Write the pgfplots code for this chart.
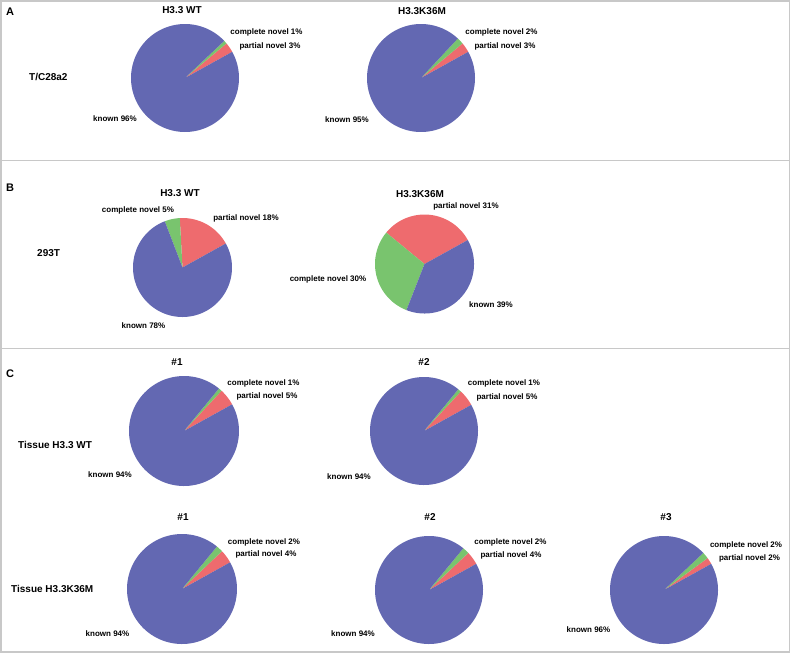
\documentclass[border=0pt]{standalone}
\usepackage{pgfplots}
\pgfplotsset{compat=1.18}
\usepackage{fontspec}
\setmainfont{Liberation Sans}
\definecolor{cblue}{RGB}{99,104,178}
\definecolor{cred}{RGB}{238,107,110}
\definecolor{cgreen}{RGB}{121,196,110}
\definecolor{cframe}{RGB}{200,200,200}
\tikzset{
  lab/.style={font=\bfseries\fontsize{8}{9}\selectfont, inner sep=0pt},
  ttl/.style={font=\bfseries\fontsize{10}{11}\selectfont, inner sep=0pt},
  pnl/.style={font=\bfseries\fontsize{11}{12}\selectfont, inner sep=0pt},
}
% pie: cx, cy, r, known, complete novel, partial novel (percent)
\newcommand{\pie}[6]{%
  \pgfmathsetmacro{\tot}{#4+#5+#6}%
  \pgfmathsetmacro{\aA}{29}%
  \pgfmathsetmacro{\aB}{29+#6/\tot*360}%
  \pgfmathsetmacro{\aC}{\aB+#5/\tot*360}%
  \pgfmathsetmacro{\aD}{389}%
  \edef\doit{%
    \noexpand\addplot[fill=cred, draw=none, domain=\aA:\aB, samples=30, variable=\noexpand\t]
      ({#1+#3*cos(\noexpand\t)},{#2-#3*sin(\noexpand\t)}) -- (axis cs:#1,#2) -- cycle;
    \noexpand\addplot[fill=cgreen, draw=none, domain=\aB:\aC, samples=30, variable=\noexpand\t]
      ({#1+#3*cos(\noexpand\t)},{#2-#3*sin(\noexpand\t)}) -- (axis cs:#1,#2) -- cycle;
    \noexpand\addplot[fill=cblue, draw=none, domain=\aC:\aD, samples=120, variable=\noexpand\t]
      ({#1+#3*cos(\noexpand\t)},{#2-#3*sin(\noexpand\t)}) -- (axis cs:#1,#2) -- cycle;
  }\doit
}
\begin{document}
\begin{tikzpicture}
\begin{axis}[
  at={(0,0)}, anchor=south west,
  scale only axis, width=791pt, height=653pt,
  xmin=0, xmax=791, ymin=0, ymax=653, y dir=reverse,
  hide axis, clip=false,
]
% panel frames
\draw[cframe, line width=1.3pt] (axis cs:1,1) rectangle (axis cs:789.5,160.3);
\draw[cframe, line width=1.3pt] (axis cs:1,160.3) rectangle (axis cs:789.5,348.3);
\draw[cframe, line width=1.3pt] (axis cs:1,348.3) rectangle (axis cs:789.5,652);

% ---- A ----
\pie{185}{78}{54}{96}{1}{3}
\pie{421}{78}{54}{95}{2}{3}
% ---- B ----
\pie{182.5}{267.5}{49.5}{78}{5}{18}
\pie{424.5}{264}{49.5}{39}{30}{31}
% ---- C ----
\pie{184}{431}{55}{94}{1}{5}
\pie{424}{431}{54}{94}{1}{5}
\pie{182}{589}{55}{94}{2}{4}
\pie{429}{590}{54}{94}{2}{4}
\pie{664}{590}{54}{96}{2}{2}

% panel letters
\node[pnl] at (axis cs:10,12) {A};
\node[pnl] at (axis cs:10,188) {B};
\node[pnl] at (axis cs:10,374) {C};
% titles
\node[ttl] at (axis cs:182,10.5) {H3.3 WT};
\node[ttl] at (axis cs:422,11) {H3.3K36M};
\node[ttl] at (axis cs:180,193.5) {H3.3 WT};
\node[ttl] at (axis cs:420,194.5) {H3.3K36M};
\node[ttl] at (axis cs:177,362) {\#1};
\node[ttl] at (axis cs:424,362) {\#2};
\node[ttl] at (axis cs:183,517) {\#1};
\node[ttl] at (axis cs:430,517) {\#2};
\node[ttl] at (axis cs:666,517) {\#3};
% row labels
\node[ttl, anchor=west] at (axis cs:29,77) {T/C28a2};
\node[ttl, anchor=west] at (axis cs:37,253) {293T};
\node[ttl, anchor=west] at (axis cs:18,445) {Tissue H3.3 WT};
\node[ttl, anchor=west] at (axis cs:11,589) {Tissue H3.3K36M};
% A labels
\node[lab] at (axis cs:266.5,32) {complete novel 1\%};
\node[lab] at (axis cs:270,46.5) {partial novel 3\%};
\node[lab] at (axis cs:115,119) {known 96\%};
\node[lab] at (axis cs:501.5,32) {complete novel 2\%};
\node[lab] at (axis cs:505,46) {partial novel 3\%};
\node[lab] at (axis cs:347,120) {known 95\%};
% B labels
\node[lab] at (axis cs:138,210) {complete novel 5\%};
\node[lab] at (axis cs:246,218.5) {partial novel 18\%};
\node[lab] at (axis cs:143.5,326) {known 78\%};
\node[lab] at (axis cs:466,206) {partial novel 31\%};
\node[lab] at (axis cs:328,279) {complete novel 30\%};
\node[lab] at (axis cs:491,305) {known 39\%};
% C labels
\node[lab] at (axis cs:263.5,383.5) {complete novel 1\%};
\node[lab] at (axis cs:267,396) {partial novel 5\%};
\node[lab] at (axis cs:110,475) {known 94\%};
\node[lab] at (axis cs:504,383.5) {complete novel 1\%};
\node[lab] at (axis cs:507,397) {partial novel 5\%};
\node[lab] at (axis cs:349,477) {known 94\%};
\node[lab] at (axis cs:264,542) {complete novel 2\%};
\node[lab] at (axis cs:266,554.5) {partial novel 4\%};
\node[lab] at (axis cs:107.5,633.5) {known 94\%};
\node[lab] at (axis cs:510.5,542.5) {complete novel 2\%};
\node[lab] at (axis cs:511,555) {partial novel 4\%};
\node[lab] at (axis cs:353,633.5) {known 94\%};
\node[lab] at (axis cs:746,545) {complete novel 2\%};
\node[lab] at (axis cs:749.5,558) {partial novel 2\%};
\node[lab] at (axis cs:588.5,629.5) {known 96\%};
\end{axis}
\pgfresetboundingbox
\path (0,0) rectangle (791pt,653pt);
\end{tikzpicture}
\end{document}
